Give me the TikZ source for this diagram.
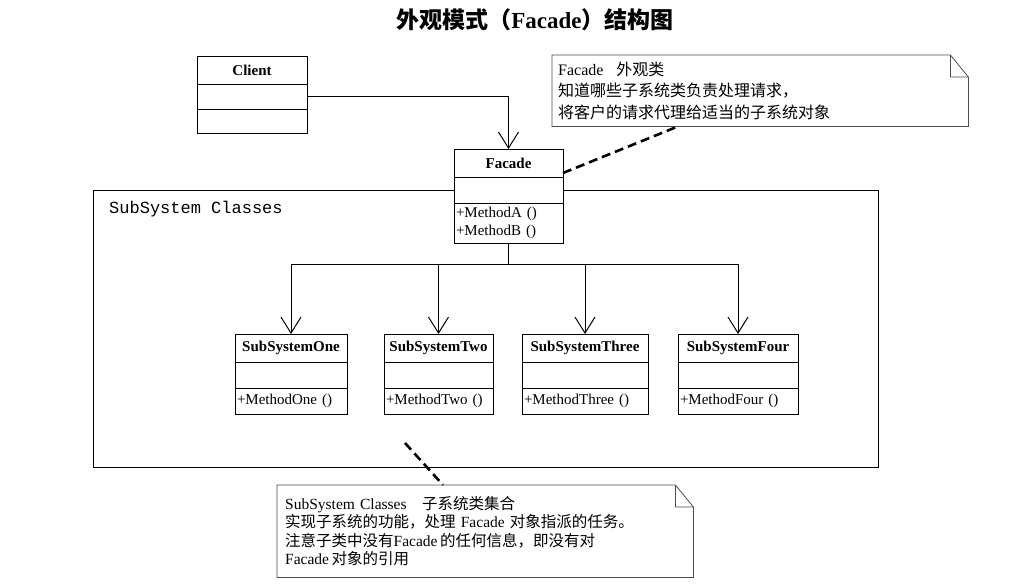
\documentclass[tikz,border=0pt]{standalone}
\usepackage{fontspec}
\setmainfont{Liberation Serif}
\setmonofont{Liberation Mono}
\newfontfamily\cjk{Noto Sans CJK SC}
\usetikzlibrary{positioning,arrows.meta}
\newcommand\zh[1]{{\cjk #1}}
\newcommand\fs[2]{\fontsize{#1}{#2}\selectfont}

\begin{document}
\begin{tikzpicture}[x=1pt,y=-1pt,
  clsbox/.style={draw,line width=1pt,fill=white,inner xsep=2pt,inner ysep=0pt,outer sep=0pt},
  clshead/.style={clsbox,align=center,minimum height=28pt,font=\bfseries\fs{15}{17}},
  clsrow/.style={clsbox,align=left,minimum height=#1,font=\fs{15}{18}},
  clsrow/.default=26pt,
  dep/.style={line width=1pt,-{Straight Barb[length=16pt,width=20pt,line width=1pt]}},
  notebox/.style={draw=black!70,line width=.8pt},
  notetext/.style={anchor=north west,align=left,inner ysep=0pt},
  link/.style={line width=2.6pt,dash pattern=on 9pt off 5pt}]
\useasboundingbox (0,0) rectangle (1016,584);

\node[font=\bfseries\fs{23}{27}] (title) at (535,20) {\zh{外观模式（}Facade\zh{）结构图}};

% package frame
\node[draw,line width=1pt,minimum width=785pt,minimum height=277pt,outer sep=0pt] (pkg) at (485.5,328.5) {};
\node[anchor=base west,inner sep=0pt,font=\ttfamily\fs{17}{20}] (pkglabel) at (109,213) {SubSystem Classes};

% client and facade
\node[clshead,text width=106pt] (client) at (252,70) {Client};
\node[clsrow=25pt,text width=106pt,below=0pt of client] (client-a) {};
\node[clsrow=24pt,text width=106pt,below=0pt of client-a] (client-b) {};

\node[clshead,text width=105pt] (facade) at (508.5,163) {Facade};
\node[clsrow,text width=105pt,below=0pt of facade] (facade-a) {};
\node[clsrow=40pt,text width=105pt,below=0pt of facade-a] (facade-m) {+MethodA ()\\+MethodB ()};

\draw[dep] (client-a.east) -| (facade.north);

% subsystem classes
\coordinate (fork) at (508.5,264);
\draw[line width=1pt] (facade-m.south) -- (fork);
\foreach \n/\cx/\tw in {One/291/108,Two/438.5/105,Three/585/122,Four/738/116}{
  \node[clshead,text width=\tw pt] (sub\n) at (\cx,348) {SubSystem\n};
  \node[clsrow,text width=\tw pt,below=0pt of sub\n] (sub\n-a) {};
  \node[clsrow,text width=\tw pt,below=0pt of sub\n-a] (sub\n-m) {+Method\n\ ()};
  \draw[dep] (fork -| sub\n.north) -- (sub\n.north);
}
\draw[line width=1pt] (fork -| subOne.north) -- (fork -| subFour.north);

% notes
\node[notetext,text width=404pt,inner xsep=6pt,minimum height=71pt,font=\fs{16}{21.5}] (facadenote) at (552,55)
  {Facade\hspace{.8em}\zh{外观类}\\\zh{知道哪些子系统类负责处理请求，}\\\zh{将客户的请求代理给适当的子系统对象}};
\draw[notebox] (facadenote.north west) -- ([xshift=-18pt]facadenote.north east) -- ([yshift=-22pt]facadenote.north east)
  -- (facadenote.south east) -- (facadenote.south west) -- cycle
  ([xshift=-18pt]facadenote.north east) |- ([yshift=-22pt]facadenote.north east);

\node[notetext,text width=400pt,inner xsep=8pt,minimum height=92pt,font=\fs{15.5}{18.5}] (subnote) at (277,485)
  {SubSystem Classes\quad\zh{子系统类集合}\\
   \zh{实现子系统的功能，处理} Facade \zh{对象指派的任务。}\\
   \zh{注意子类中没有}Facade\,\zh{的任何信息，即没有对}\\
   Facade\,\zh{对象的引用}};
\draw[notebox] (subnote.north west) -- ([xshift=-18pt]subnote.north east) -- ([yshift=-22pt]subnote.north east)
  -- (subnote.south east) -- (subnote.south west) -- cycle
  ([xshift=-18pt]subnote.north east) |- ([yshift=-22pt]subnote.north east);

\draw[link] ([yshift=4pt]facade.south east) -- ([xshift=126pt]facadenote.south west);
\coordinate (pkgpin) at (405,443);
\draw[link] (pkgpin) -- ([xshift=166pt]subnote.north west);
\end{tikzpicture}
\end{document}
